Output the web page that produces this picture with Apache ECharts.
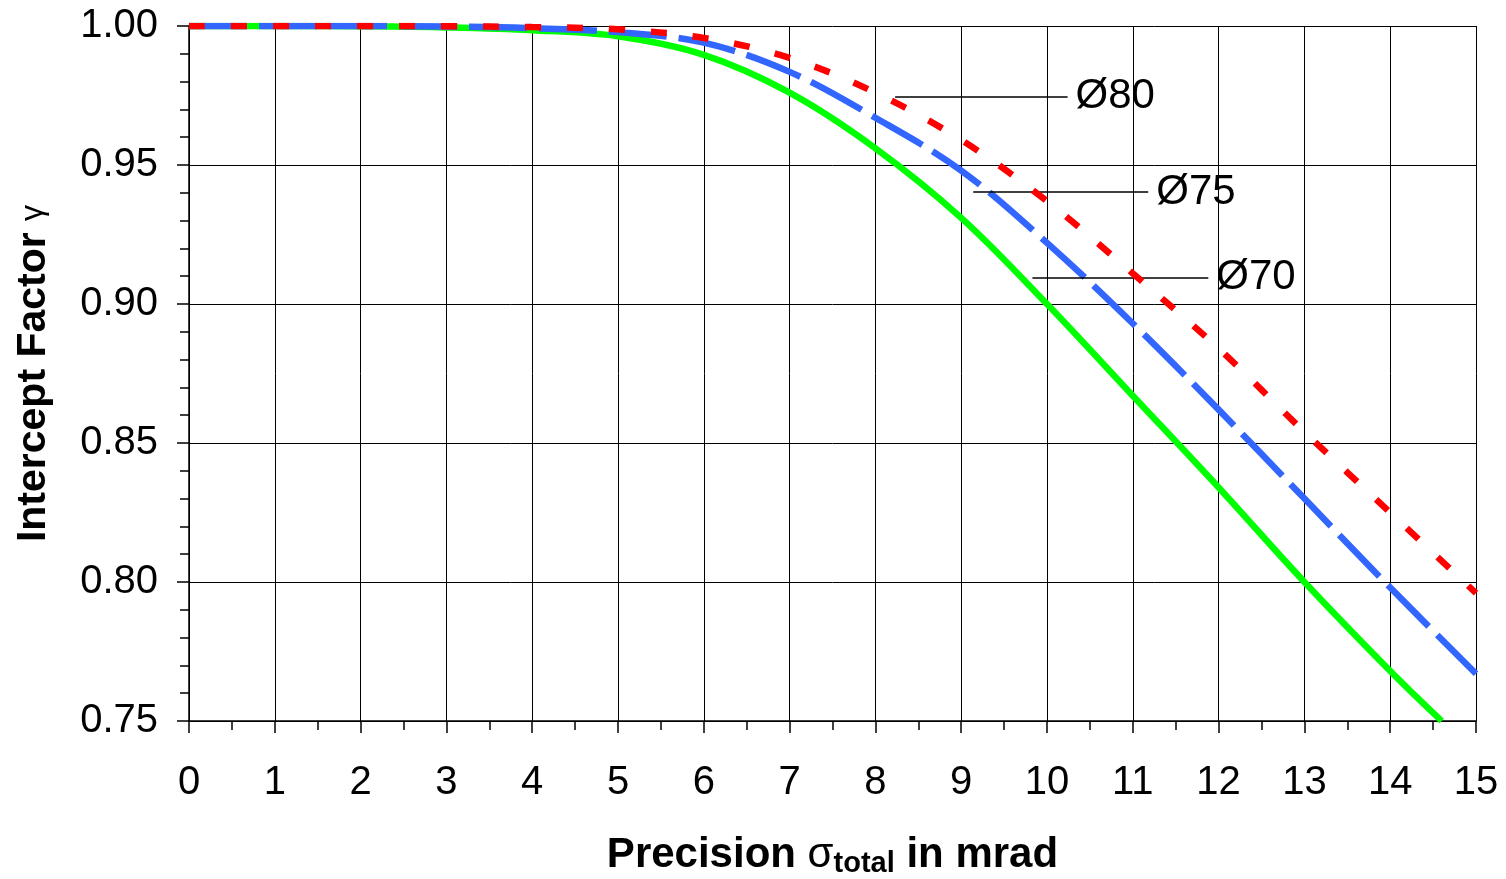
<!DOCTYPE html>
<html>
<head>
<meta charset="utf-8">
<script src="https://cdn.jsdelivr.net/npm/echarts@6/dist/echarts.min.js"></script>
<style>html,body{margin:0;padding:0;background:#fff;overflow:hidden}#c{width:1506px;height:879px}</style>
</head>
<body>
<div id="c"></div>
<script>
// Data (x = precision in mrad, y = intercept factor)
const xD70 = [0, 1, 2, 3, 4, 5, 6, 7, 8, 9, 10, 11, 12, 13, 14, 14.6];
const yD70 = [1.000, 1.000, 0.9999, 0.9995, 0.9985, 0.9963, 0.9896, 0.976, 0.956, 0.931, 0.900, 0.867, 0.834, 0.800, 0.768, 0.750];
const xD75 = [0, 1, 2, 3, 4, 5, 6, 7, 8, 9, 10, 11, 12, 13, 14, 15];
const yD75 = [1.000, 1.000, 1.000, 0.9998, 0.9992, 0.9978, 0.994, 0.9835, 0.967, 0.948, 0.922, 0.893, 0.862, 0.830, 0.798, 0.767];
const xD80 = [0, 1, 2, 3, 4, 5, 6, 7, 8, 9, 10, 11, 12, 13, 14, 15];
const yD80 = [1.000, 1.000, 1.000, 0.9999, 0.9996, 0.9988, 0.9957, 0.9885, 0.976, 0.959, 0.937, 0.911, 0.884, 0.854, 0.825, 0.796];
const seriesNames = ['Ø70', 'Ø75', 'Ø80'];
// Annotation leader lines: label, x start, x end, y
const annotLabels = ['Ø80', 'Ø75', 'Ø70'];
const annotX0 = [8.23, 9.14, 9.83];
const annotX1 = [10.24, 11.18, 11.88];
const annotY = [0.9745, 0.9403, 0.9094];
const xTicks = [0, 1, 2, 3, 4, 5, 6, 7, 8, 9, 10, 11, 12, 13, 14, 15];

const zip = (xs, ys) => xs.map((x, i) => [x, ys[i]]);
const FONT = '"Liberation Sans", Arial, sans-serif';

const chart = echarts.init(document.getElementById('c'), null, {renderer: 'canvas', width: 1506, height: 879});
chart.setOption({
  animation: false,
  backgroundColor: '#fff',
  grid: {left: 189, top: 26, width: 1287, height: 695, containLabel: false, outerBoundsMode: 'none', show: false},
  xAxis: {
    type: 'value', min: 0, max: 15, interval: 1,
    axisLine: {show: true, lineStyle: {color: '#000', width: 1.5}},
    axisTick: {show: true, inside: false, length: 12, lineStyle: {color: '#000', width: 1.5}},
    minorTick: {show: true, splitNumber: 2, length: 9, lineStyle: {color: '#000', width: 1.5}},
    splitLine: {show: true, lineStyle: {color: '#000', width: 1}},
    axisLabel: {fontFamily: FONT, fontSize: 40, color: '#000', margin: 42,
                formatter: v => xTicks.includes(v) ? String(v) : ''},
    name: '{b|Precision }{s|σ}{sub|total}{b| in mrad}',
    nameLocation: 'middle', nameGap: 112,
    nameTextStyle: {
      rich: {
        b: {fontFamily: FONT, fontSize: 42, fontWeight: 'bold', color: '#000'},
        s: {fontFamily: FONT, fontSize: 42, fontWeight: 'normal', color: '#000'},
        sub: {fontFamily: FONT, fontSize: 29, fontWeight: 'bold', color: '#000', verticalAlign: 'bottom', padding: [16, 0, 0, 0]}
      }
    }
  },
  yAxis: {
    type: 'value', min: 0.75, max: 1.0, interval: 0.05,
    axisLine: {show: true, lineStyle: {color: '#000', width: 1.5}},
    axisTick: {show: true, inside: false, length: 12, lineStyle: {color: '#000', width: 1.5}},
    minorTick: {show: true, splitNumber: 5, length: 9, lineStyle: {color: '#000', width: 1.5}},
    splitLine: {show: true, lineStyle: {color: '#000', width: 1}},
    axisLabel: {fontFamily: FONT, fontSize: 40, color: '#000', margin: 31,
                formatter: v => v.toFixed(2)},
    name: '{b|Intercept Factor }{g|γ}',
    nameLocation: 'middle', nameRotate: 90, nameGap: 135,
    nameTextStyle: {
      rich: {
        b: {fontFamily: FONT, fontSize: 41, fontWeight: 'bold', color: '#000'},
        g: {fontFamily: FONT, fontSize: 32, fontWeight: 'normal', color: '#000'}
      }
    }
  },
  series: [
    {
      name: seriesNames[0], type: 'line', smooth: 0.35, showSymbol: false, clip: true,
      data: zip(xD70, yD70),
      lineStyle: {color: '#00ff00', width: 6.5, type: 'solid'},
      z: 3
    },
    {
      name: seriesNames[1], type: 'line', smooth: 0.35, showSymbol: false, clip: true,
      data: zip(xD75, yD75),
      lineStyle: {color: '#3366ff', width: 6.5, type: [58, 12]},
      z: 4
    },
    {
      name: seriesNames[2], type: 'line', smooth: 0.35, showSymbol: false, clip: true,
      data: zip(xD80, yD80),
      lineStyle: {color: '#ff0000', width: 6.5, type: [16, 26]},
      z: 5
    },
    {
      name: 'annotations', type: 'line', data: [], silent: true,
      markLine: {
        silent: true, symbol: ['none', 'none'], animation: false,
        lineStyle: {color: '#000', width: 1.5, type: 'solid'},
        label: {show: true, position: 'end', distance: 8, fontFamily: FONT, fontSize: 42, color: '#000',
                formatter: p => p.data.name || ''},
        data: annotLabels.map((lab, i) => [
          {name: lab, coord: [annotX0[i], annotY[i]]},
          {coord: [annotX1[i], annotY[i]]}
        ])
      },
      z: 6
    }
  ]
});
</script>
</body>
</html>
